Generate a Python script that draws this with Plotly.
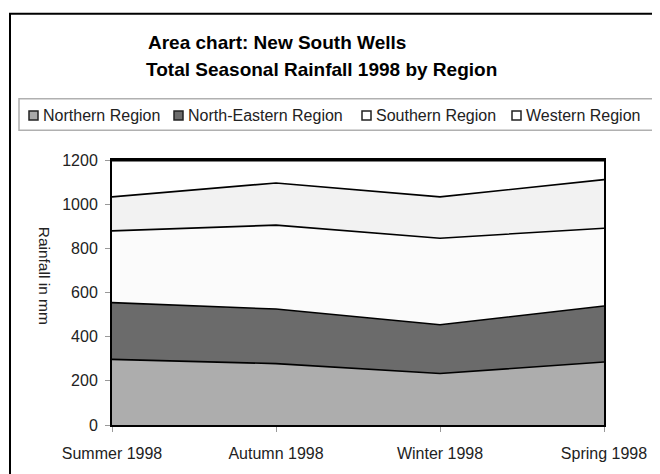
import plotly.graph_objects as go

seasons = ["Summer 1998", "Autumn 1998", "Winter 1998", "Spring 1998"]
northern = [297, 278, 233, 285]
north_eastern = [257, 247, 221, 254]
southern = [325, 380, 392, 352]
western = [154, 191, 187, 220]

series_names = ["Northern Region", "North-Eastern Region", "Southern Region", "Western Region"]
series_values = [northern, north_eastern, southern, western]
fill_colors = ["#adadad", "#6b6b6b", "#fbfbfb", "#f2f2f2"]
legend_colors = ["#a8a8a8", "#6b6b6b", "#ffffff", "#ffffff"]

FONT = "Liberation Sans, Arial, sans-serif"

# the page body has an 8px margin, so the figure is sized to fit inside it
BODY = 8
W, H = 660 - BODY, 474 - BODY
PL, PR, PT, PB = 112, 604, 160, 428   # plot area in page pixels
ML, MR, MT, MB = PL - BODY, 660 - PR, PT - BODY, 474 - PB
PW, PH = PR - PL, PB - PT


def px_x(px):
    return (px - PL) / PW


def px_y(py):
    return (PB - py) / PH


fig = go.Figure()
for name, vals, col in zip(series_names, series_values, fill_colors):
    fig.add_trace(go.Scatter(
        x=seasons, y=vals, name=name, mode="lines",
        stackgroup="one", fillcolor=col,
        line=dict(color="black", width=1.6),
        showlegend=False,
    ))

shapes = []
# outer chart border (extends past the image on the right and bottom)
shapes.append(dict(type="rect", xref="paper", yref="paper",
                   x0=px_x(10), x1=px_x(700), y0=px_y(520), y1=px_y(12),
                   line=dict(color="black", width=2), fillcolor="rgba(0,0,0,0)", layer="above"))
# legend box
shapes.append(dict(type="rect", xref="paper", yref="paper",
                   x0=px_x(19), x1=px_x(658), y0=px_y(130), y1=px_y(98),
                   line=dict(color="#b0b0b0", width=1.5), fillcolor="white", layer="below"))
# heavier top edge of the plot frame
shapes.append(dict(type="line", xref="paper", yref="paper", x0=0, x1=1, y0=1, y1=1,
                   line=dict(color="black", width=3), layer="above"))

annotations = []
legend_marker_left = [29, 174, 362, 512]
for name, lc, mx in zip(series_names, legend_colors, legend_marker_left):
    shapes.append(dict(type="rect", xref="paper", yref="paper",
                       xsizemode="pixel", ysizemode="pixel",
                       xanchor=px_x(mx), yanchor=px_y(115),
                       x0=0, x1=9, y0=-4.5, y1=4.5,
                       fillcolor=lc, line=dict(color="#222222", width=1.5)))
    annotations.append(dict(text=name, xref="paper", yref="paper",
                            x=px_x(mx + 12), y=px_y(115), xanchor="left", yanchor="middle",
                            showarrow=False, font=dict(family=FONT, size=16, color="#222222")))

annotations.append(dict(text="<b>Area chart: New South Wells</b>", xref="paper", yref="paper",
                        x=px_x(146), y=px_y(41), xanchor="left", yanchor="middle",
                        showarrow=False, font=dict(family=FONT, size=19, color="black")))
annotations.append(dict(text="<b>Total Seasonal Rainfall 1998 by Region</b>", xref="paper", yref="paper",
                        x=px_x(144), y=px_y(68), xanchor="left", yanchor="middle",
                        showarrow=False, font=dict(family=FONT, size=19, color="black")))
annotations.append(dict(text="Rainfall in mm", xref="paper", yref="paper",
                        x=px_x(44), y=px_y(277), xanchor="center", yanchor="middle",
                        textangle=90, showarrow=False,
                        font=dict(family=FONT, size=15.5, color="#222222")))

fig.update_layout(
    width=W, height=H,
    margin=dict(l=ML, r=MR, t=MT, b=MB, pad=0),
    paper_bgcolor="white", plot_bgcolor="white",
    showlegend=False,
    font=dict(family=FONT, size=16, color="#222222"),
    shapes=shapes, annotations=annotations,
    xaxis=dict(type="category", range=[0, 3], showgrid=False, zeroline=False,
               showline=True, mirror=True, linecolor="black", linewidth=2,
               ticks="outside", ticklen=5, tickcolor="#999999",
               ticklabelstandoff=8, tickfont=dict(size=16, color="#222222")),
    yaxis=dict(range=[0, 1200], dtick=200, showgrid=False, zeroline=False,
               showline=True, mirror=True, linecolor="black", linewidth=2,
               ticks="outside", ticklen=5, tickcolor="#999999",
               ticklabelstandoff=4, tickfont=dict(size=16, color="#222222")),
)

fig.write_html("out.html")
